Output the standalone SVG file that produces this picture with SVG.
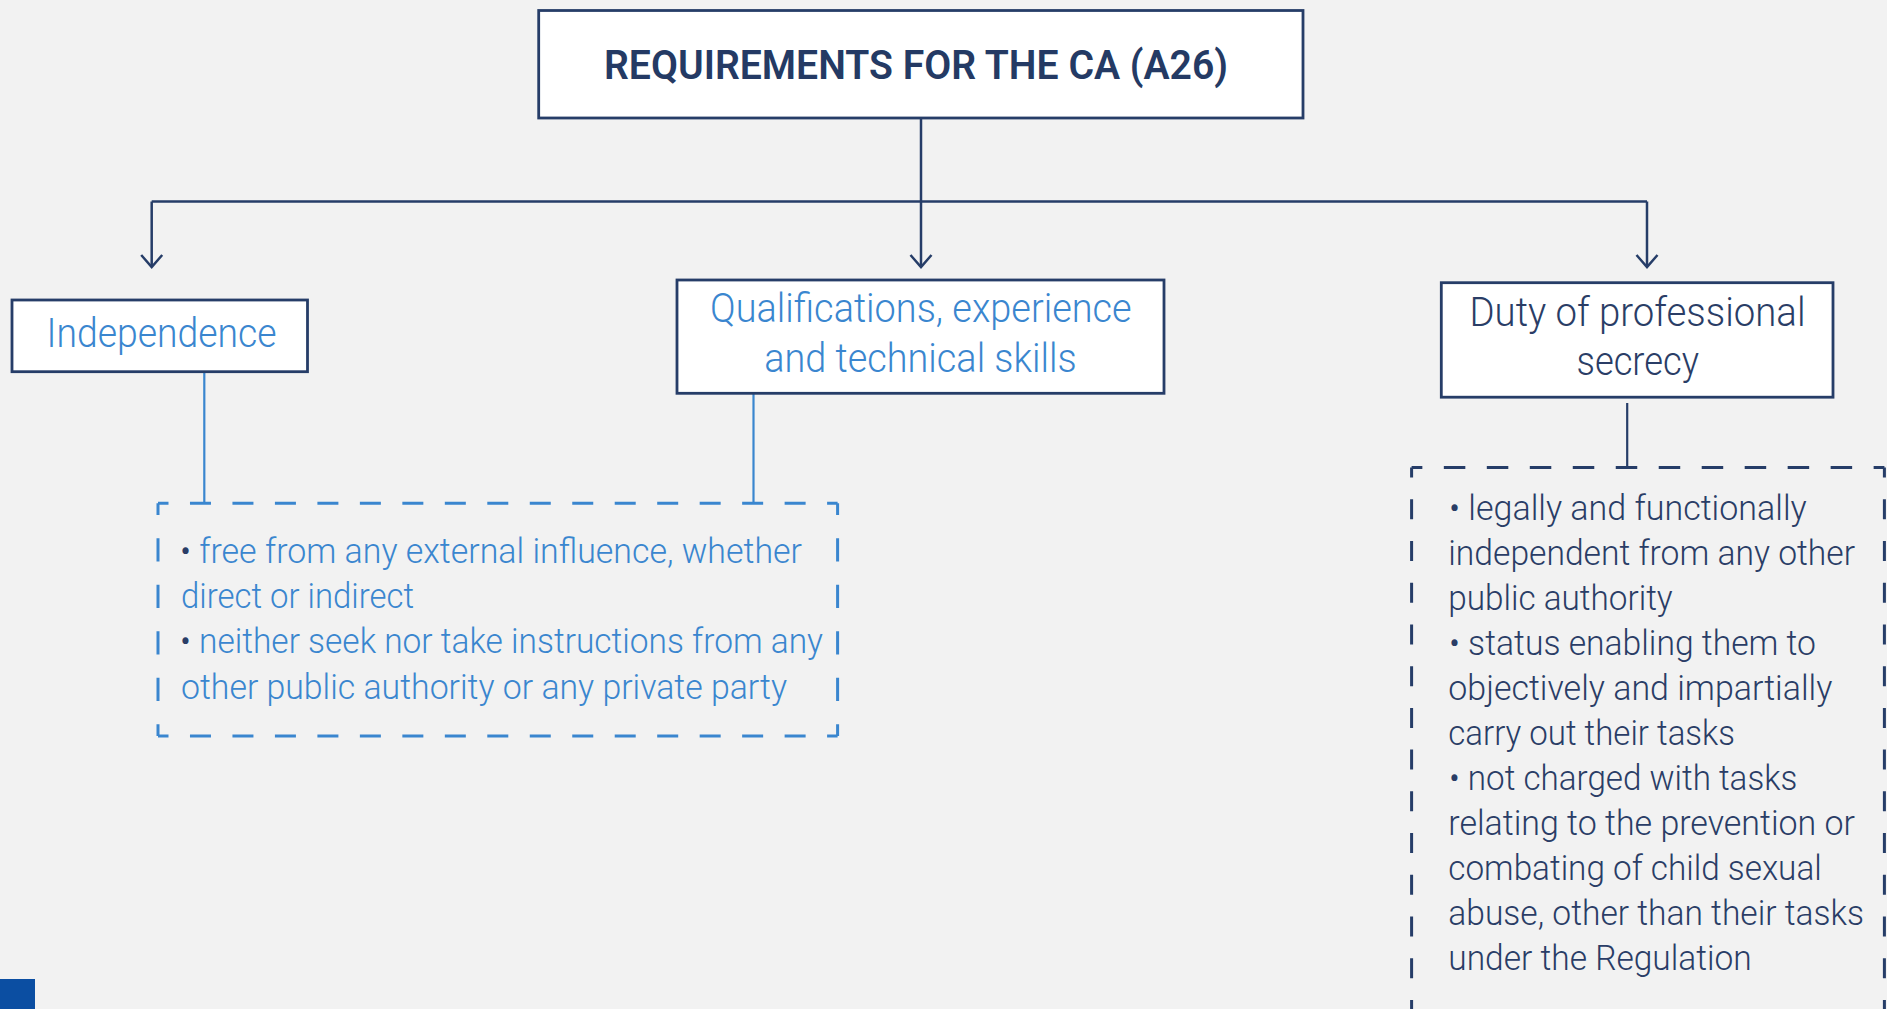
<svg xmlns="http://www.w3.org/2000/svg" width="1887" height="1009" viewBox="0 0 1887 1009">
  <style>
    .bg { fill: #f2f2f2; }
    .box { fill: #ffffff; stroke: #263d68; stroke-width: 2.8; }
    .title { font-family: Roboto, "Liberation Sans", sans-serif; font-weight: 600; font-size: 40px; fill: #243a64; }
    .head { font-family: Roboto, "Liberation Sans", sans-serif; font-weight: 300; font-size: 40px; }
    .body { font-family: Roboto, "Liberation Sans", sans-serif; font-weight: 300; font-size: 34.5px; }
    .blue { fill: #3a86cf; }
    .navy { fill: #2a3d66; }
    .conn { fill: none; stroke: #263d68; stroke-width: 2.5; }
    .bconn { fill: none; stroke: #3a86cf; stroke-width: 2.2; }
    .nconn { fill: none; stroke: #263d68; stroke-width: 2.2; }
    .dashb { fill: none; stroke: #3a86cf; stroke-width: 3; }
    .dashn { fill: none; stroke: #263d68; stroke-width: 3; }
  </style>
  <defs>
    <marker id="arrow" markerUnits="userSpaceOnUse" markerWidth="30" markerHeight="30" viewBox="-15 -15 30 30" refX="0" refY="0" orient="auto">
      <path d="M -12 -10.5 L 0 0 L -12 10.5" fill="none" stroke="#263d68" stroke-width="2.5"/>
    </marker>
  </defs>

  <rect class="bg" x="0" y="0" width="1887" height="1009"/>

  <g id="connectors">
    <path class="conn" d="M 921 118 L 921 267" marker-end="url(#arrow)"/>
    <path class="conn" d="M 151.7 201.5 L 1647 201.5"/>
    <path class="conn" d="M 151.7 201.5 L 151.7 267" marker-end="url(#arrow)"/>
    <path class="conn" d="M 1647 201.5 L 1647 267" marker-end="url(#arrow)"/>
    <path class="bconn" d="M 204.3 372 L 204.3 503"/>
    <path class="bconn" d="M 753.5 393.5 L 753.5 503"/>
    <path class="nconn" d="M 1627.2 403 L 1627.2 467.5"/>
  </g>

  <g id="title">
    <rect class="box" x="538.7" y="10.5" width="764.3" height="107.5"/>
    <text class="title" x="604" y="79.3" textLength="624" lengthAdjust="spacingAndGlyphs">REQUIREMENTS FOR THE CA (A26)</text>
  </g>

  <g id="independence">
    <rect class="box" x="12" y="300" width="295.5" height="71.7"/>
    <text class="head blue" x="46.5" y="346.7" textLength="230" lengthAdjust="spacingAndGlyphs">Independence</text>
  </g>

  <g id="qualifications">
    <rect class="box" x="677" y="280" width="487" height="113.3"/>
    <text class="head blue" x="710" y="322.3" textLength="421.7" lengthAdjust="spacingAndGlyphs">Qualifications, experience</text>
    <text class="head blue" x="764.3" y="371.7" textLength="312.4" lengthAdjust="spacingAndGlyphs">and technical skills</text>
  </g>

  <g id="duty">
    <rect class="box" x="1441.3" y="282.7" width="391.7" height="114.5"/>
    <text class="head navy" x="1469.5" y="325.5" textLength="336" lengthAdjust="spacingAndGlyphs">Duty of professional</text>
    <text class="head navy" x="1576.5" y="374.5" textLength="122.5" lengthAdjust="spacingAndGlyphs">secrecy</text>
  </g>

  <g id="independence-details">
    <line class="dashb" x1="158" y1="503.3" x2="837.6" y2="503.3" stroke-dasharray="21 21.475" stroke-dashoffset="10.5"/>
    <line class="dashb" x1="158" y1="736" x2="837.6" y2="736" stroke-dasharray="21 21.475" stroke-dashoffset="10.5"/>
    <line class="dashb" x1="158" y1="503.3" x2="158" y2="736" stroke-dasharray="23.3 23.24" stroke-dashoffset="11.65"/>
    <line class="dashb" x1="837.6" y1="503.3" x2="837.6" y2="736" stroke-dasharray="23.3 23.24" stroke-dashoffset="11.65"/>
    <text class="body blue" x="180" y="563.3" textLength="622" lengthAdjust="spacingAndGlyphs"><tspan class="navy">•</tspan> free from any external influence, whether</text>
    <text class="body blue" x="181" y="608.3" textLength="233" lengthAdjust="spacingAndGlyphs">direct or indirect</text>
    <text class="body blue" x="180" y="653.3" textLength="643" lengthAdjust="spacingAndGlyphs"><tspan class="navy">•</tspan> neither seek nor take instructions from any</text>
    <text class="body blue" x="181" y="698.8" textLength="606" lengthAdjust="spacingAndGlyphs">other public authority or any private party</text>
  </g>

  <g id="duty-details">
    <line class="dashn" x1="1411.6" y1="467.5" x2="1884.4" y2="467.5" stroke-dasharray="21.5 21.48" stroke-dashoffset="10.75"/>
    <line class="dashn" x1="1411.6" y1="467.5" x2="1411.6" y2="1030" stroke-dasharray="20 21.73" stroke-dashoffset="10"/>
    <line class="dashn" x1="1884.4" y1="467.5" x2="1884.4" y2="1030" stroke-dasharray="20 21.73" stroke-dashoffset="10"/>
    <text class="body navy" x="1449" y="520" textLength="357.7" lengthAdjust="spacingAndGlyphs">• legally and functionally</text>
    <text class="body navy" x="1448.3" y="565" textLength="406.7" lengthAdjust="spacingAndGlyphs">independent from any other</text>
    <text class="body navy" x="1448.3" y="610" textLength="224.4" lengthAdjust="spacingAndGlyphs">public authority</text>
    <text class="body navy" x="1449" y="655" textLength="367" lengthAdjust="spacingAndGlyphs">• status enabling them to</text>
    <text class="body navy" x="1448.3" y="700" textLength="384" lengthAdjust="spacingAndGlyphs">objectively and impartially</text>
    <text class="body navy" x="1448.3" y="745" textLength="286.7" lengthAdjust="spacingAndGlyphs">carry out their tasks</text>
    <text class="body navy" x="1449" y="790" textLength="348.3" lengthAdjust="spacingAndGlyphs">• not charged with tasks</text>
    <text class="body navy" x="1448.3" y="835" textLength="406.7" lengthAdjust="spacingAndGlyphs">relating to the prevention or</text>
    <text class="body navy" x="1448.3" y="880" textLength="373.4" lengthAdjust="spacingAndGlyphs">combating of child sexual</text>
    <text class="body navy" x="1448.3" y="925" textLength="415.7" lengthAdjust="spacingAndGlyphs">abuse, other than their tasks</text>
    <text class="body navy" x="1448.3" y="970" textLength="303.4" lengthAdjust="spacingAndGlyphs">under the Regulation</text>
  </g>

  <rect x="0" y="979" width="35" height="30" fill="#0b4ea2"/>
</svg>
